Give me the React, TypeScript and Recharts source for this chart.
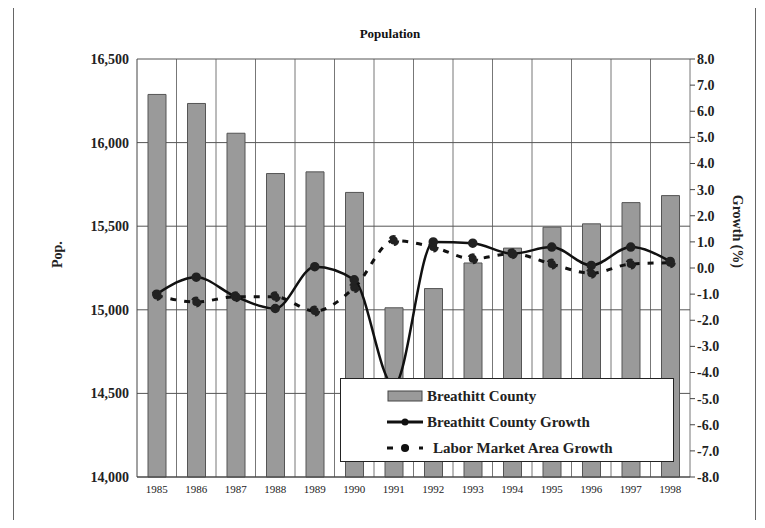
import { Bar, CartesianGrid, ComposedChart, Line, XAxis, YAxis } from "recharts";

const years = ["1985", "1986", "1987", "1988", "1989", "1990", "1991", "1992", "1993", "1994", "1995", "1996", "1997", "1998"];
const population = [16288, 16234, 16056, 15815, 15825, 15702, 15012, 15127, 15280, 15369, 15494, 15514, 15641, 15683];
const countyGrowth = [-1.0, -0.35, -1.1, -1.55, 0.05, -0.45, -4.5, 1.0, 0.95, 0.55, 0.8, 0.1, 0.8, 0.25];
const lmaGrowth = [-1.05, -1.3, -1.1, -1.1, -1.65, -0.75, 1.05, 0.8, 0.35, 0.55, 0.15, -0.2, 0.15, 0.2];
const popTicks = [14000, 14500, 15000, 15500, 16000, 16500];
const growthTicks = [-8, -7, -6, -5, -4, -3, -2, -1, 0, 1, 2, 3, 4, 5, 6, 7, 8];

const data = years.map((year, i) => ({
  year,
  pop: population[i],
  county: countyGrowth[i],
  lma: lmaGrowth[i],
}));

const font = "'Liberation Serif', 'Times New Roman', serif";

function LegendBox() {
  const row = { display: "flex", alignItems: "center", height: 26, fontWeight: 700, fontSize: 15 } as const;
  return (
    <div style={{ position: "absolute", left: 332, top: 370, width: 334, height: 84, background: "#fff", border: "1px solid #222", boxSizing: "border-box", padding: "4px 0 0 46px", fontFamily: font, color: "#222" }}>
      <div style={row}>
        <svg width={36} height={12}><rect x={1} y={1} width={34} height={10} fill="#9a9a9a" stroke="#444" /></svg>
        <span style={{ marginLeft: 4 }}>Breathitt County</span>
      </div>
      <div style={row}>
        <svg width={36} height={12}><line x1={0} y1={6} x2={36} y2={6} stroke="#111" strokeWidth={3} /><circle cx={18} cy={6} r={3.5} fill="#111" /></svg>
        <span style={{ marginLeft: 4 }}>Breathitt County Growth</span>
      </div>
      <div style={row}>
        <svg width={36} height={12}><line x1={0} y1={6} x2={36} y2={6} stroke="#111" strokeWidth={3} strokeDasharray="6 10" /><circle cx={18} cy={6} r={4} fill="#111" /></svg>
        <span style={{ marginLeft: 10 }}>Labor Market Area Growth</span>
      </div>
    </div>
  );
}

export default function App() {
  return (
    <div style={{ position: "relative", width: 749, height: 512, fontFamily: font }}>
      <div style={{ position: "absolute", left: 5, top: -3, width: 743, height: 516, border: "1px solid #666", boxSizing: "border-box" }} />
      <ComposedChart
        width={749}
        height={512}
        data={data}
        margin={{ top: 51, right: 27, bottom: 18, left: 69 }}
        barSize={18}
      >
        <text x={382} y={30} textAnchor="middle" fontWeight={700} fontSize={13} fontFamily={font} fill="#111">Population</text>
        <CartesianGrid
          stroke="#777"
          horizontal={false}
          verticalCoordinatesGenerator={({ offset }: any) =>
            years.map((_, i) => offset.left + ((i + 1) * offset.width) / years.length)
          }
        />
        <CartesianGrid stroke="#555" vertical={false} yAxisId="pop" />
        <XAxis dataKey="year" tick={{ fontSize: 11, fill: "#222", fontFamily: font }} tickLine={false} axisLine={{ stroke: "#444" }} height={25} />
        <YAxis
          yAxisId="pop"
          domain={[14000, 16500]}
          ticks={popTicks}
          width={60}
          tickFormatter={(v: number) => v.toLocaleString("en-US")}
          tick={{ fontSize: 14, fontWeight: 700, fill: "#222", fontFamily: font }}
          tickLine={false}
          axisLine={{ stroke: "#444" }}
          label={{ value: "Pop.", angle: -90, position: "insideLeft", offset: -20, style: { fontSize: 14, fontWeight: 700, fill: "#222", fontFamily: font } }}
        />
        <YAxis
          yAxisId="g"
          orientation="right"
          domain={[-8, 8]}
          ticks={growthTicks}
          width={40}
          interval={0}
          tickFormatter={(v: number) => v.toFixed(1)}
          tick={{ fontSize: 14, fontWeight: 700, fill: "#222", fontFamily: font }}
          tickLine={{ stroke: "#444" }}
          tickSize={5}
          axisLine={false}
          label={{ value: "Growth (%)", angle: 90, position: "insideRight", offset: -8, style: { fontSize: 14, fontWeight: 700, fill: "#222", fontFamily: font } }}
        />
        <Bar yAxisId="pop" dataKey="pop" fill="#9a9a9a" stroke="#555" isAnimationActive={false} />
        <Line yAxisId="g" type="monotone" dataKey="lma" stroke="#111" strokeWidth={3} strokeDasharray="6 8" dot={{ r: 4, fill: "#222", stroke: "#222" }} isAnimationActive={false} />
        <Line yAxisId="g" type="monotone" dataKey="county" stroke="#111" strokeWidth={2.5} dot={{ r: 3.5, fill: "#222", stroke: "#222" }} isAnimationActive={false} />
      </ComposedChart>
      <LegendBox />
    </div>
  );
}
